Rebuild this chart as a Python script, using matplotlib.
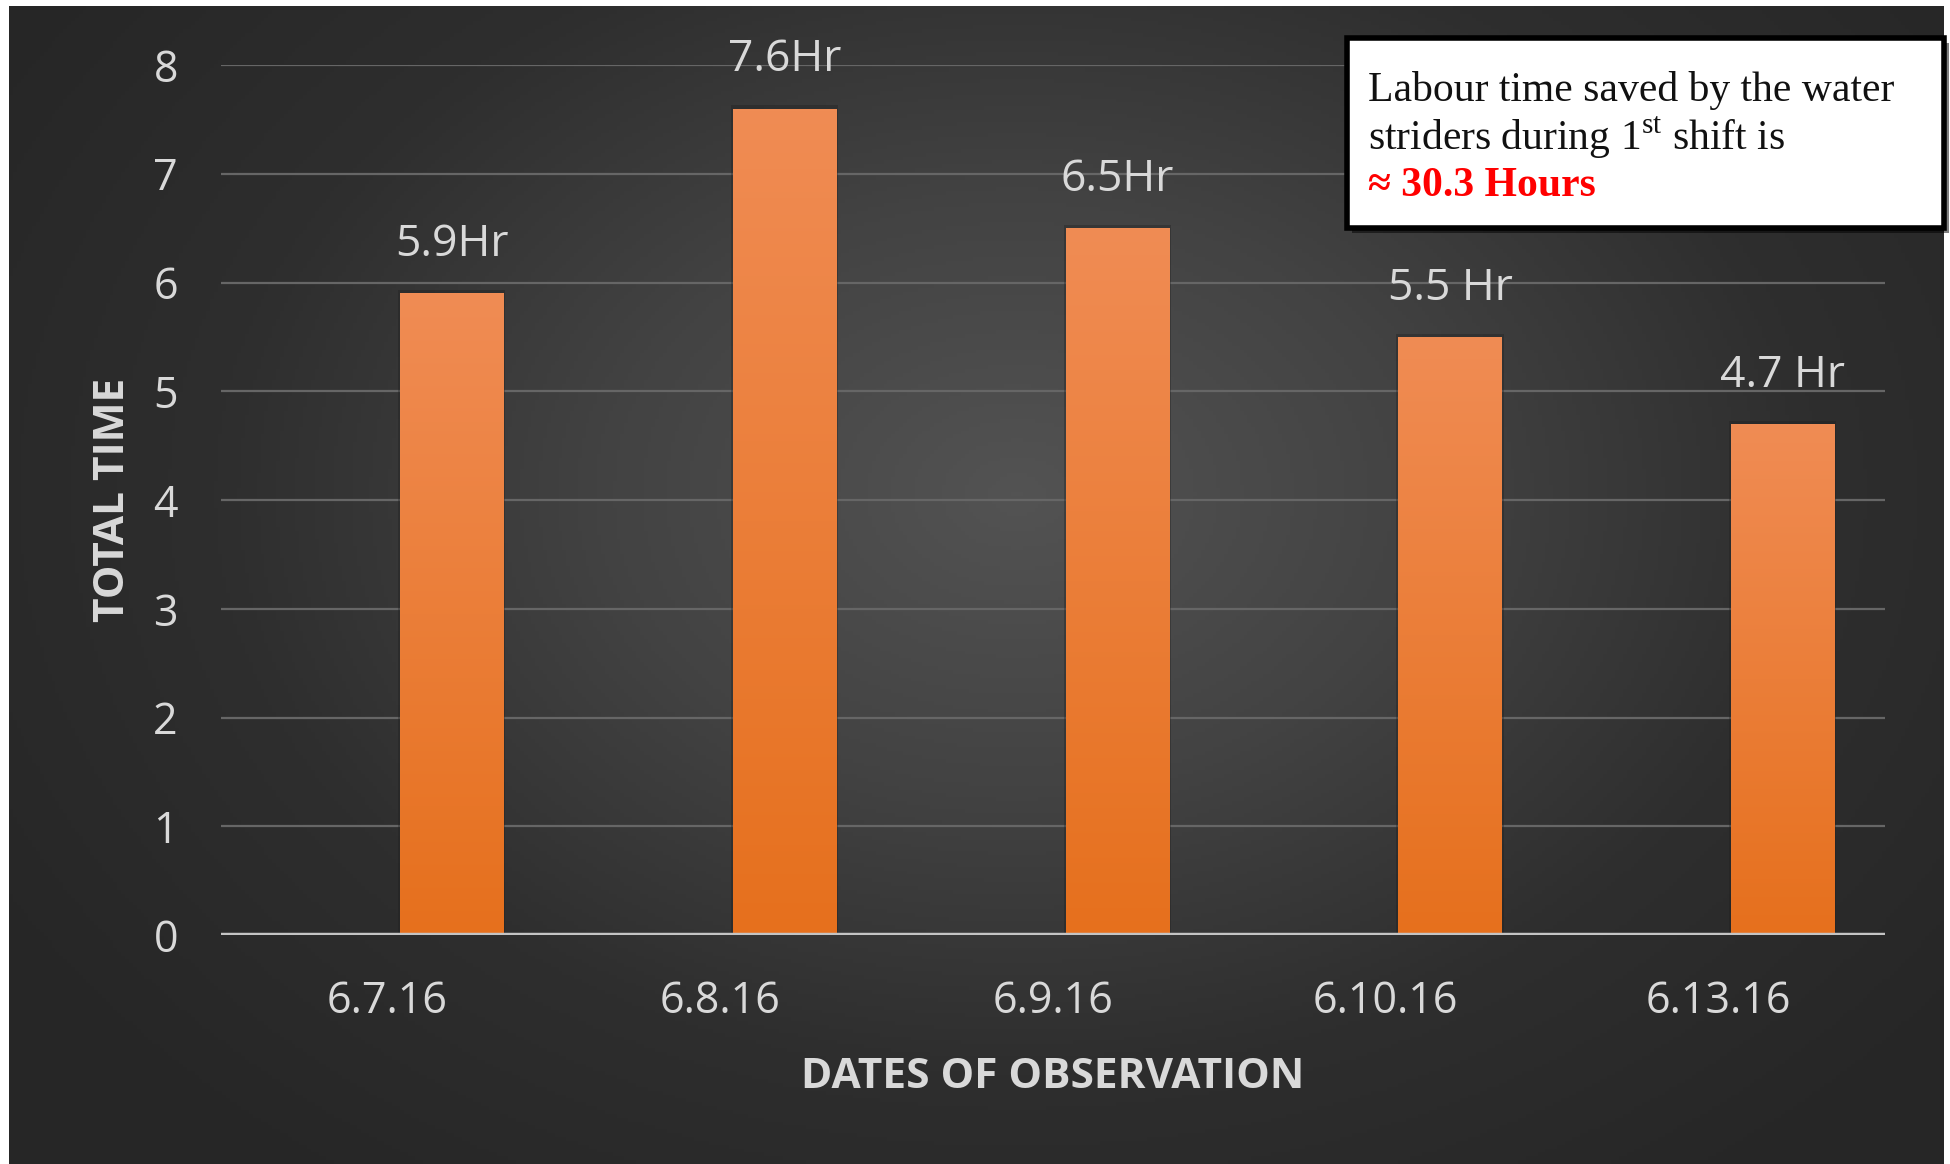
import numpy as np
import matplotlib
matplotlib.use("Agg")
import matplotlib.pyplot as plt
from matplotlib.patches import Rectangle
from matplotlib.colors import LinearSegmentedColormap

# ---- data ----
dates = ["6.7.16", "6.8.16", "6.9.16", "6.10.16", "6.13.16"]
total_time = [5.9, 7.6, 6.5, 5.5, 4.7]
bar_labels = ["5.9Hr", "7.6Hr", "6.5Hr", "5.5 Hr", "4.7 Hr"]
y_ticks = [0, 1, 2, 3, 4, 5, 6, 7, 8]
note_line1 = "Labour time saved by the water"
note_line2 = "striders during 1$^{\\mathrm{st}}$ shift is"
note_line3 = "≈ 30.3 Hours"

plt.rcParams['font.family'] = ['Open Sans', 'DejaVu Sans']
plt.rcParams['mathtext.fontset'] = 'custom'
plt.rcParams['mathtext.rm'] = 'Liberation Serif'

W, H = 1950, 1164
fig = plt.figure(figsize=(W / 100, H / 100), dpi=100, facecolor='white')

# background with radial gradient
bg = fig.add_axes([9 / W, 0, (1944 - 9) / W, (H - 6) / H])
bg.set_axis_off()
ny, nx = 300, 500
yy, xx = np.mgrid[0:ny, 0:nx]
cx, cy = 0.52 * nx, 0.42 * ny
r = np.sqrt(((xx - cx) / (0.62 * nx)) ** 2 + ((yy - cy) / (0.75 * ny)) ** 2)
r = np.clip(r, 0, 1)
bg_cmap = LinearSegmentedColormap.from_list('bg', ['#535353', '#434343', '#2e2e2e', '#262626'])
bg.imshow(r, cmap=bg_cmap, vmin=0, vmax=1, aspect='auto', extent=[0, 1, 0, 1], origin='upper')
bg.set_xlim(0, 1)
bg.set_ylim(0, 1)

# main axes
left, right = 221 / W, 1885 / W
bottom, top = (H - 935) / H, (H - 65) / H
ax = fig.add_axes([left, bottom, right - left, top - bottom])
ax.patch.set_alpha(0)
for s in ax.spines.values():
    s.set_visible(False)

x = np.arange(len(dates))
offset = 0.193
width = 0.31
bars = ax.bar(x + offset, total_time, width=width, color='none', edgecolor='none', zorder=3)

grad = np.linspace(1, 0, 256).reshape(-1, 1)
bar_cmap = LinearSegmentedColormap.from_list('bar', ['#e6701d', '#f08c54'])
for b in bars:
    x0, y0 = b.get_x(), b.get_y()
    w, h = b.get_width(), b.get_height()
    ax.add_patch(Rectangle((x0 - 0.006, y0), w + 0.012, h + 0.03, facecolor='#1e1e1e',
                           alpha=0.35, edgecolor='none', zorder=2.5))
    im = ax.imshow(grad, cmap=bar_cmap, vmin=0, vmax=1, aspect='auto',
                   extent=[x0, x0 + w, y0, y0 + h], zorder=3.2)
    im.set_clip_path(b)

for b, lab in zip(bars, bar_labels):
    ax.annotate(lab, (b.get_x() + b.get_width() / 2, b.get_height()),
                xytext=(0, 35), textcoords='offset points', ha='center', va='center',
                color='#d9d9d9', fontsize=32, zorder=5)

ax.set_xlim(-0.5, len(dates) - 0.5)
ax.set_ylim(0, 8)
ax.set_yticks(y_ticks)
ax.set_xticks(x)
ax.set_xticklabels(dates)
ax.tick_params(axis='both', length=0, colors='#d9d9d9', labelsize=31)
ax.tick_params(axis='y', pad=31)
ax.tick_params(axis='x', pad=32)
ax.grid(axis='y', color='#666666', linewidth=1.6, zorder=1)
ax.set_axisbelow(True)
ax.axhline(0, color='#c4c4c4', linewidth=3.2, zorder=4)

ax.set_xlabel("DATES OF OBSERVATION", fontsize=30.5, fontweight='bold', color='#d9d9d9', labelpad=24)
ax.set_ylabel("TOTAL TIME", fontsize=30.5, fontweight='bold', color='#d9d9d9', labelpad=14)

# note box (figure pixel coordinates)
bx0, by0, bx1, by1 = 1347, 38, 1944, 228
fig.patches.append(Rectangle(((bx0 + 5) / W, (H - by1 - 5) / H), (bx1 - bx0) / W, (by1 - by0) / H,
                             transform=fig.transFigure, facecolor='#000000', alpha=0.5,
                             edgecolor='none', zorder=8))
fig.patches.append(Rectangle((bx0 / W, (H - by1) / H), (bx1 - bx0) / W, (by1 - by0) / H,
                             transform=fig.transFigure, facecolor='white', edgecolor='black',
                             linewidth=4, zorder=9))
serif = ['Liberation Serif', 'DejaVu Serif']
tx = 1368 / W
fig.text(tx, (H - 90) / H, note_line1, family=serif, fontsize=30, color='#111111', va='center', zorder=10)
fig.text(tx, (H - 138) / H, note_line2, family=serif, fontsize=30, color='#111111', va='center', zorder=10)
fig.text(tx, (H - 186) / H, note_line3, family=serif, fontsize=30, fontweight='bold', color='#ff0000',
         va='center', zorder=10)

fig.savefig('out.png', dpi=100, facecolor='white')
